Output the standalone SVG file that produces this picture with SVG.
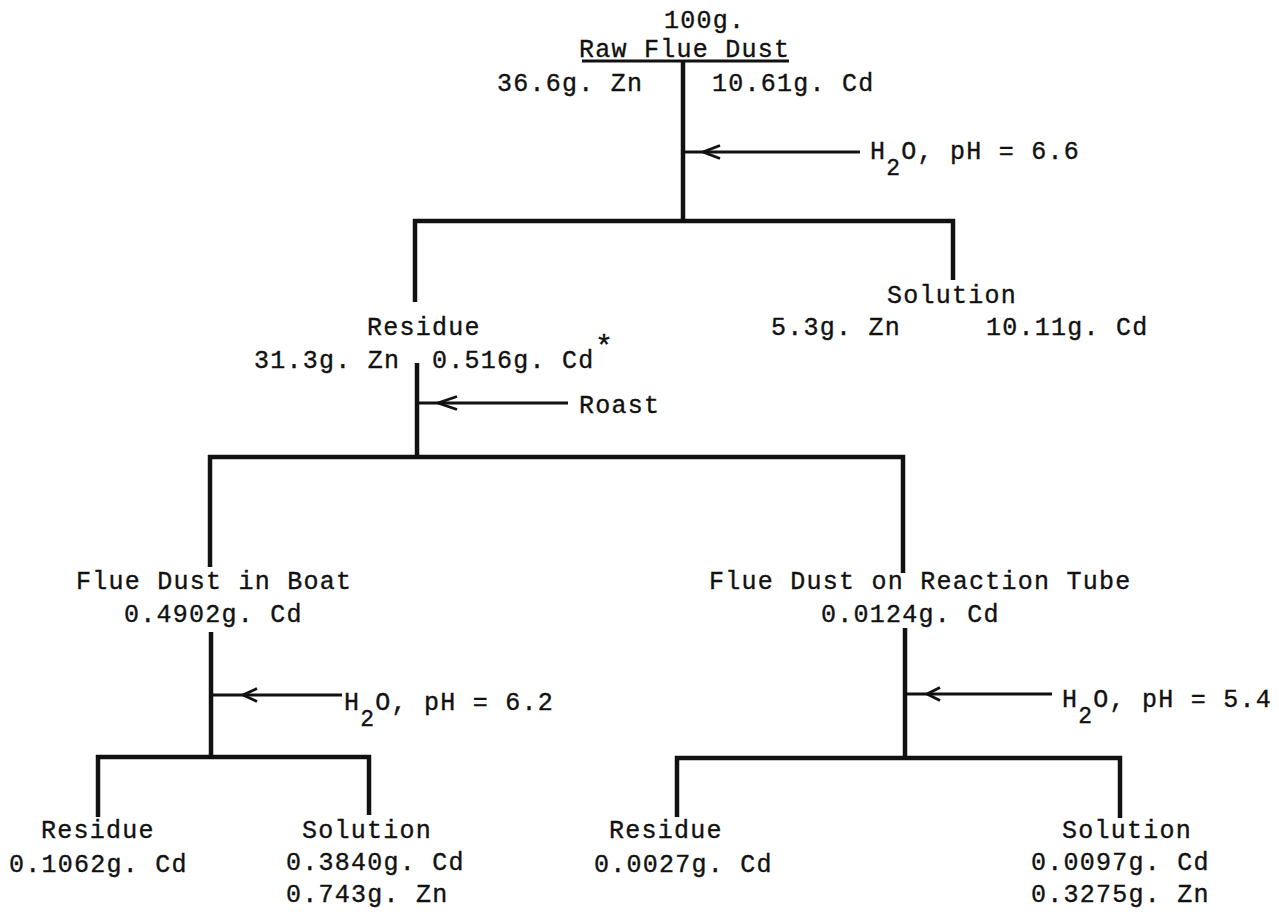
<svg xmlns="http://www.w3.org/2000/svg" width="1279" height="912" viewBox="0 0 1279 912">
<style>
text{font-family:"Liberation Mono","DejaVu Sans Mono",monospace;font-size:25px;letter-spacing:1.25px;fill:#111;stroke:#111;stroke-width:0.35}
.sub{font-size:23px}
.ast{font-size:30px;letter-spacing:0}
.b{stroke:#111;stroke-width:4.5;fill:none;stroke-linecap:butt}
.a{stroke:#111;stroke-width:2.8;fill:none}
.h{stroke:#111;stroke-width:2.8;fill:none;stroke-linejoin:miter}
</style>
<rect width="1279" height="912" fill="#fff"/>
<g id="connectors">
<line class="b" x1="683" y1="60" x2="683" y2="223"/>
<line class="b" x1="413" y1="221" x2="955" y2="221"/>
<line class="b" x1="415" y1="219" x2="415" y2="302"/>
<line class="b" x1="953" y1="219" x2="953" y2="280"/>
<line class="b" x1="417" y1="363" x2="417" y2="459"/>
<line class="b" x1="208" y1="457" x2="905" y2="457"/>
<line class="b" x1="210" y1="455" x2="210" y2="567"/>
<line class="b" x1="903" y1="455" x2="903" y2="573"/>
<line class="b" x1="211" y1="632" x2="211" y2="759"/>
<line class="b" x1="96" y1="757" x2="371" y2="757"/>
<line class="b" x1="98" y1="755" x2="98" y2="817"/>
<line class="b" x1="369" y1="755" x2="369" y2="815"/>
<line class="b" x1="905" y1="628" x2="905" y2="760"/>
<line class="b" x1="675" y1="758" x2="1122" y2="758"/>
<line class="b" x1="677" y1="756" x2="677" y2="817"/>
<line class="b" x1="1120" y1="756" x2="1120" y2="818"/>
<line class="a" x1="685" y1="152" x2="860" y2="152"/>
<path class="h" d="M720,145.5 L703,152 L720,158.5"/>
<line class="a" x1="419" y1="403" x2="568" y2="403"/>
<path class="h" d="M457,396.5 L438,403 L457,409.5"/>
<line class="a" x1="213" y1="695" x2="342" y2="695"/>
<path class="h" d="M257,688.5 L243,695 L257,701.5"/>
<line class="a" x1="907" y1="694" x2="1052" y2="694"/>
<path class="h" d="M940,687.5 L927,694 L940,700.5"/>
<line stroke="#111" stroke-width="3" x1="582" y1="61" x2="789" y2="61"/>
</g>
<g id="raw">
<text x="664" y="28">100g.</text>
<text x="579" y="57">Raw Flue Dust</text>
<text x="497" y="91">36.6g. Zn</text>
<text x="712" y="91">10.61g. Cd</text>
</g>
<g id="h2o-1"><text x="870" y="159">H<tspan class="sub" dy="16">2</tspan><tspan dy="-16">O, pH = 6.6</tspan></text></g>
<g id="residue-1">
<text x="367" y="335">Residue</text>
<text x="254" y="368">31.3g. Zn</text>
<text x="432" y="368">0.516g. Cd</text>
<text class="ast" x="595" y="356">*</text>
</g>
<g id="solution-1">
<text x="887" y="303">Solution</text>
<text x="771" y="335">5.3g. Zn</text>
<text x="986" y="335">10.11g. Cd</text>
</g>
<g id="roast"><text x="579" y="413">Roast</text></g>
<g id="boat">
<text x="76" y="589">Flue Dust in Boat</text>
<text x="124" y="622">0.4902g. Cd</text>
</g>
<g id="tube">
<text x="709" y="589">Flue Dust on Reaction Tube</text>
<text x="821" y="622">0.0124g. Cd</text>
</g>
<g id="h2o-2"><text x="344" y="710">H<tspan class="sub" dy="16">2</tspan><tspan dy="-16">O, pH = 6.2</tspan></text></g>
<g id="h2o-3"><text x="1062" y="707">H<tspan class="sub" dy="16">2</tspan><tspan dy="-16">O, pH = 5.4</tspan></text></g>
<g id="residue-2">
<text x="41" y="838">Residue</text>
<text x="9" y="872">0.1062g. Cd</text>
</g>
<g id="solution-2">
<text x="302" y="838">Solution</text>
<text x="286" y="870">0.3840g. Cd</text>
<text x="286" y="902">0.743g. Zn</text>
</g>
<g id="residue-3">
<text x="609" y="838">Residue</text>
<text x="594" y="872">0.0027g. Cd</text>
</g>
<g id="solution-3">
<text x="1062" y="838">Solution</text>
<text x="1031" y="870">0.0097g. Cd</text>
<text x="1031" y="902">0.3275g. Zn</text>
</g>
</svg>
